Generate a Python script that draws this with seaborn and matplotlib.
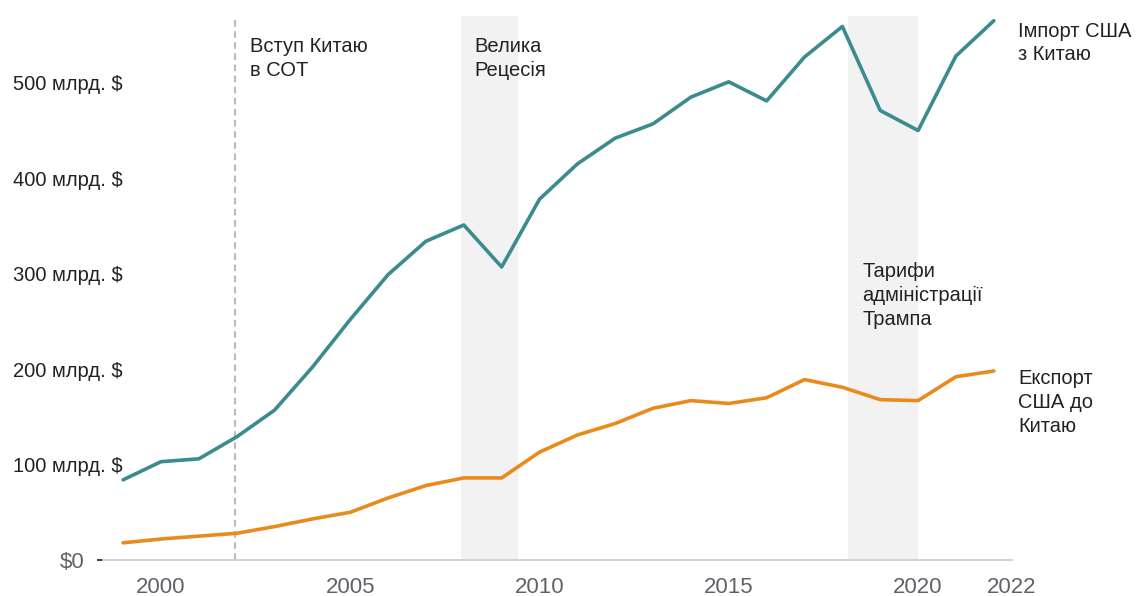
import pandas as pd
import matplotlib.pyplot as plt
import seaborn as sns

years = list(range(1999, 2023))
imports = [84, 103, 106, 129, 157, 202, 252, 299, 334, 351, 307, 378,
           415, 442, 457, 485, 501, 481, 527, 559, 471, 450, 528, 565]
exports = [18, 22, 25, 28, 35, 43, 50, 65, 78, 86, 86, 113,
           131, 143, 159, 167, 164, 170, 189, 181, 168, 167, 192, 198]

y_ticks = [0, 100, 200, 300, 400, 500]
y_labels = ['$0', '100 млрд. $', '200 млрд. $', '300 млрд. $', '400 млрд. $', '500 млрд. $']
x_ticks = [2000, 2005, 2010, 2015, 2020, 2022.48]
x_labels = ['2000', '2005', '2010', '2015', '2020', '2022']

wto_year = 2001.95
recession = (2007.92, 2009.42)
tariffs = (2018.15, 2020.0)

df = pd.DataFrame({
    'рік': years * 2,
    'значення': imports + exports,
    'серія': ['Імпорт США з Китаю'] * len(years) + ['Експорт США до Китаю'] * len(years),
})

sns.set_style('white')
plt.rcParams['font.family'] = ['Liberation Sans', 'DejaVu Sans']

fig = plt.figure(figsize=(11.36, 5.96), dpi=100)
ax = fig.add_axes([0.0907, 0.0604, 0.8001, 0.9128])

teal = '#3b8b8f'
orange = '#e98b1c'

ax.axvspan(*recession, color='#f2f2f2', zorder=0, lw=0)
ax.axvspan(*tariffs, color='#f2f2f2', zorder=0, lw=0)
ax.axvline(wto_year, color='#bdbdbd', ls=(0, (3, 2)), lw=1.6, zorder=1)

sns.lineplot(data=df, x='рік', y='значення', hue='серія',
             palette={'Імпорт США з Китаю': teal, 'Експорт США до Китаю': orange},
             lw=2.6, legend=False, ax=ax, zorder=3)

ax.set_xlim(1998.47, 2022.48)
ax.set_ylim(0, 570)

for s in ['top', 'right', 'left']:
    ax.spines[s].set_visible(False)
ax.spines['bottom'].set_color('#cccccc')
ax.spines['bottom'].set_linewidth(1.2)

ax.set_xticks(x_ticks)
ax.set_xticklabels(x_labels, fontsize=16, color='#5f6368')
ax.tick_params(axis='x', bottom=False, length=0, pad=12)

ax.set_yticks(y_ticks)
ax.set_yticklabels(y_labels, fontsize=14.5, color='#222222')
ax.tick_params(axis='y', left=True, length=4.5, width=1.3, color='#333333', pad=8.5)
for i, t in enumerate(ax.yaxis.get_major_ticks()):
    if i == 0:
        t.label1.set_color('#5f6368')
        t.label1.set_fontsize(16)
    else:
        t.tick1line.set_visible(False)
        t.set_pad(-18.5)

ax.set_xlabel('')
ax.set_ylabel('')

txt = dict(fontsize=14.5, color='#222222', va='top', ha='left', linespacing=1.32)
ax.text(2002.35, 548, 'Вступ Китаю\nв СОТ', **txt)
ax.text(2008.27, 548, 'Велика\nРецесія', **txt)
ax.text(2018.52, 312, 'Тарифи\nадміністрації\nТрампа', **txt)
ax.text(2022.64, 564, 'Імпорт США\nз Китаю', clip_on=False, **txt)
ax.text(2022.64, 200, 'Експорт\nСША до\nКитаю', clip_on=False, **txt)

fig.savefig('out.png', dpi=100)
